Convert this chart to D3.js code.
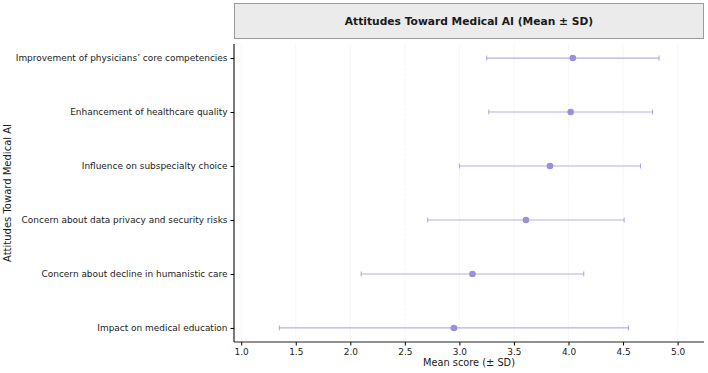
<!DOCTYPE html>
<html>
<head>
<meta charset="utf-8">
<script src="https://cdn.jsdelivr.net/npm/d3@7"></script>
<style>
  body { margin: 0; background: #fff; }
  text { font-family: "DejaVu Sans", sans-serif; fill: #1a1a1a; }
</style>
</head>
<body>
<div id="wrapper"></div>
<script>
const items = [
  "Improvement of physicians\u2019 core competencies",
  "Enhancement of healthcare quality",
  "Influence on subspecialty choice",
  "Concern about data privacy and security risks",
  "Concern about decline in humanistic care",
  "Impact on medical education"
]
const means = [4.04, 4.02, 3.83, 3.61, 3.12, 2.95]
const sds = [0.79, 0.75, 0.83, 0.90, 1.02, 1.60]
const xTicks = [1.0, 1.5, 2.0, 2.5, 3.0, 3.5, 4.0, 4.5, 5.0]

const dataset = items.map((d, i) => ({ item: d, mean: means[i], sd: sds[i] }))

function drawChart() {
  const dimensions = {
    width: 708,
    height: 373,
    margin: { top: 44, right: 4, bottom: 31, left: 234 },
  }
  dimensions.boundedWidth = dimensions.width - dimensions.margin.left - dimensions.margin.right
  dimensions.boundedHeight = dimensions.height - dimensions.margin.top - dimensions.margin.bottom

  const wrapper = d3.select("#wrapper")
    .append("svg")
    .attr("width", dimensions.width)
    .attr("height", dimensions.height)

  const bounds = wrapper.append("g")
    .attr("transform", `translate(${dimensions.margin.left},${dimensions.margin.top})`)

  const xScale = d3.scaleLinear()
    .domain([0.934, 5.242])
    .range([0, dimensions.boundedWidth])

  const yScale = d3.scalePoint()
    .domain(items)
    .range([0, dimensions.boundedHeight])
    .padding(0.26)

  // strip title
  wrapper.append("rect")
    .attr("x", dimensions.margin.left + 0.5)
    .attr("y", 3.5)
    .attr("width", dimensions.boundedWidth - 1)
    .attr("height", 35)
    .attr("fill", "#ebebeb")
    .attr("stroke", "#9a9a9a")
    .attr("stroke-width", 1)
  wrapper.append("text")
    .attr("x", dimensions.margin.left + dimensions.boundedWidth / 2)
    .attr("y", 21)
    .attr("dy", "0.35em")
    .attr("text-anchor", "middle")
    .style("font-size", "10.7px")
    .style("font-weight", "bold")
    .text("Attitudes Toward Medical AI (Mean \u00b1 SD)")

  // grid
  bounds.append("g")
    .selectAll("line")
    .data(xTicks)
    .join("line")
    .attr("x1", d => xScale(d))
    .attr("x2", d => xScale(d))
    .attr("y1", 0)
    .attr("y2", dimensions.boundedHeight)
    .attr("stroke", "#e6e6e6")
    .attr("stroke-width", 0.8)
    .attr("stroke-dasharray", "1,1.5")

  // error bars
  const color = "#9a8fd9"
  const bars = bounds.append("g")
    .selectAll("g")
    .data(dataset)
    .join("g")
    .attr("transform", d => `translate(0,${yScale(d.item)})`)

  bars.append("line")
    .attr("x1", d => xScale(d.mean - d.sd))
    .attr("x2", d => xScale(d.mean + d.sd))
    .attr("stroke", color)
    .attr("stroke-opacity", 0.7)
    .attr("stroke-width", 1.2)

  bars.selectAll(".cap")
    .data(d => [d.mean - d.sd, d.mean + d.sd])
    .join("line")
    .attr("class", "cap")
    .attr("x1", d => xScale(d))
    .attr("x2", d => xScale(d))
    .attr("y1", -2.5)
    .attr("y2", 2.5)
    .attr("stroke", color)
    .attr("stroke-opacity", 0.8)
    .attr("stroke-width", 1)

  bars.append("circle")
    .attr("cx", d => xScale(d.mean))
    .attr("r", 3.3)
    .attr("fill", color)

  // axes
  const yAxisGenerator = d3.axisLeft(yScale).tickSize(3.5).tickPadding(3)
  const yAxis = bounds.append("g").call(yAxisGenerator)
  yAxis.select(".domain").attr("d", `M0,0V${dimensions.boundedHeight}`).attr("stroke", "#222").attr("stroke-width", 1.2)
  yAxis.selectAll("text").style("font-size", "8.95px").attr("fill", "#1a1a1a")

  const xAxisGenerator = d3.axisBottom(xScale).tickValues(xTicks).tickFormat(d3.format(".1f")).tickSize(3.5).tickPadding(3)
  const xAxis = bounds.append("g")
    .call(xAxisGenerator)
    .attr("transform", `translate(0,${dimensions.boundedHeight})`)
  xAxis.select(".domain").attr("d", `M0,0H${dimensions.boundedWidth}`).attr("stroke", "#222").attr("stroke-width", 1.2)
  xAxis.selectAll("text").style("font-size", "8.95px").attr("fill", "#1a1a1a")

  wrapper.append("text")
    .attr("x", dimensions.margin.left + dimensions.boundedWidth / 2)
    .attr("y", 366)
    .attr("text-anchor", "middle")
    .style("font-size", "9.8px")
    .text("Mean score (\u00b1 SD)")

  wrapper.append("text")
    .attr("transform", `translate(11,${dimensions.margin.top + dimensions.boundedHeight / 2}) rotate(-90)`)
    .attr("text-anchor", "middle")
    .style("font-size", "10px")
    .text("Attitudes Toward Medical AI")
}
drawChart()
</script>
</body>
</html>
